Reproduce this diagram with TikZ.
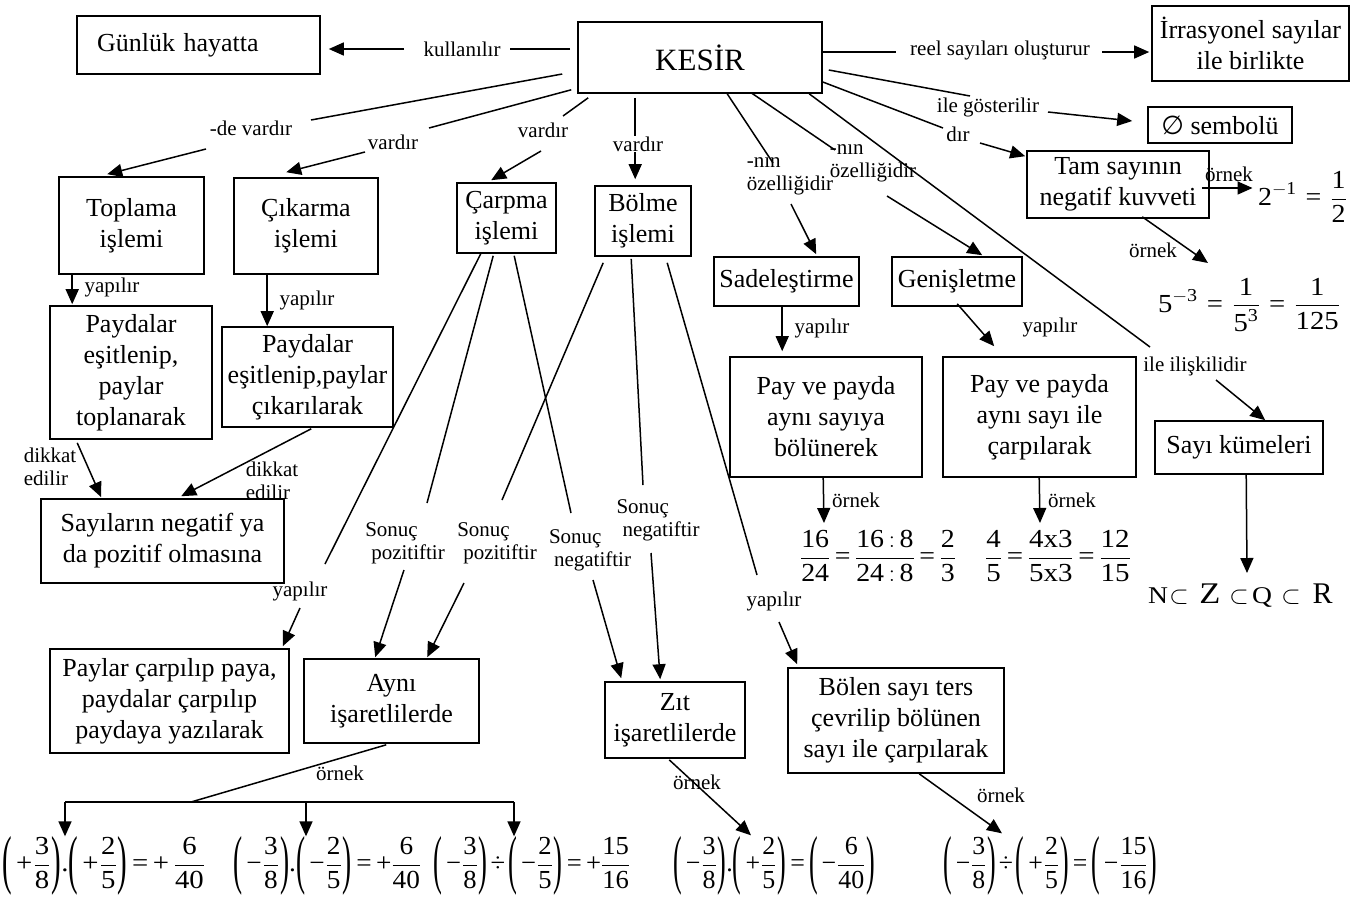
\documentclass[tikz,border=0pt]{standalone}
\usepackage{amsmath}
\usepackage{graphicx}
\usepackage{fontspec}
\setmainfont{Liberation Serif}
\newfontfamily\symfont{DejaVu Sans}
\usetikzlibrary{arrows.meta,calc}
\newcommand{\nm}[1]{\text{#1}}
\newcommand{\fr}[2]{\dfrac{\nm{#1}}{\nm{#2}}}
\newcommand{\pl}{\nm{+}}
\newcommand{\mi}{\nm{−}}
\newcommand{\lp}{\text{\raisebox{-10pt}{\scalebox{1}[2.5]{(}}}}
\newcommand{\rp}{\text{\raisebox{-10pt}{\scalebox{1}[2.5]{)}}}}
\newcommand{\pr}[2]{\lp\hspace{4pt}#1\hspace{1pt}#2\hspace{1pt}\rp}
\newcommand{\eqs}{\mathrel{\nm{=}}}
\newcommand{\dv}{\mathbin{\nm{÷}}}
\newcommand{\fitw}[2]{\resizebox{#1}{\height}{#2}}
\newcommand{\setletter}[3]{\makebox[#1]{\fontsize{#2}{#2}\selectfont\scalebox{1.15}[1]{#3}}}
\begin{document}
\thickmuskip=3mu
\medmuskip=2mu
\begin{tikzpicture}[x=1pt,y=-1pt,
  box/.style={draw, line width=1.6pt, align=center, inner sep=0pt,
              font=\fontsize{26}{31}\selectfont},
  lab/.style={inner sep=0pt, font=\fontsize{21}{23}\selectfont},
  math/.style={inner sep=0pt, font=\fontsize{26}{31}\selectfont},
  link/.style={line width=1.5pt},
  arr/.style={link, -{Triangle[length=15pt,width=13pt]}},
]
\fill[white] (0,0) rectangle (1364,906);
\useasboundingbox (0,0) rectangle (1364,906);

% ---------- concept boxes ----------
\node[box, minimum width=243pt, minimum height=58pt, text width=203pt, inner xsep=20pt, align=left] (gun) at (198.5,45) {Günlük hayatta};
\node[box, minimum width=244pt, minimum height=71pt, font=\fontsize{31}{36}\selectfont] (kesir) at (700,57.5) {KESİR};
\node[box, minimum width=197pt, minimum height=75pt] (irr) at (1250.5,43.5) {İrrasyonel sayılar\\ile birlikte};
\node[box, minimum width=144pt, minimum height=36pt] (bos) at (1220,125) {{\symfont ∅} sembolü};
\node[box, minimum width=182pt, minimum height=67pt] (tam) at (1118,184.5) {Tam sayının\\negatif kuvveti};
\node[box, minimum width=145pt, minimum height=97pt] (toplama) at (131.5,225.5) {Toplama\\işlemi};
\node[box, minimum width=144pt, minimum height=96pt] (cikarma) at (306,226) {Çıkarma\\işlemi};
\node[box, minimum width=99pt, minimum height=70pt] (carpma) at (506.5,218) {Çarpma\\işlemi};
\node[box, minimum width=96pt, minimum height=70pt] (bolme) at (643,221) {Bölme\\işlemi};
\node[box, minimum width=145pt, minimum height=49pt] (sade) at (786.5,281.5) {Sadeleştirme};
\node[box, minimum width=130pt, minimum height=49pt] (gen) at (957,281.5) {Genişletme};
\node[box, minimum width=162pt, minimum height=133pt] (pt) at (131,372.5) {Paydalar\\eşitlenip,\\paylar\\toplanarak};
\node[box, minimum width=171pt, minimum height=100pt] (pc) at (307.5,377) {Paydalar\\eşitlenip,paylar\\çıkarılarak};
\node[box, minimum width=243pt, minimum height=84pt] (say) at (162.5,541) {Sayıların negatif ya\\da pozitif olmasına};
\node[box, minimum width=192pt, minimum height=120pt] (ppb) at (826,417) {Pay ve payda\\aynı sayıya\\bölünerek};
\node[box, minimum width=193pt, minimum height=120pt] (ppc) at (1039.5,417) {Pay ve payda\\aynı sayı ile\\çarpılarak};
\node[box, minimum width=168pt, minimum height=53pt] (sayi) at (1239,447.5) {Sayı kümeleri};
\node[box, minimum width=239pt, minimum height=104pt] (paylar) at (169.5,701) {Paylar çarpılıp paya,\\paydalar çarpılıp\\paydaya yazılarak};
\node[box, minimum width=175pt, minimum height=84pt] (ayni) at (391.5,701) {Aynı\\işaretlilerde};
\node[box, minimum width=140pt, minimum height=76pt] (zit) at (675,720) {Zıt\\işaretlilerde};
\node[box, minimum width=216pt, minimum height=105pt] (bolen) at (896,720.5) {Bölen sayı ters\\çevrilip bölünen\\sayı ile çarpılarak};

% ---------- worked examples ----------
\node[math] (ex1) at (1302.5,197) {\fitw{89pt}{$\nm{2}^{-\nm{1}}\;\eqs\;\fr{1}{2}$}};
\node[math] (ex2) at (1249,305) {\fitw{182pt}{$\nm{5}^{-\nm{3}}\;\eqs\;\dfrac{\nm{1}}{\nm{5}^{\nm{3}}}\;\eqs\;\fr{1}{125}$}};
\node[math] (fr1) at (878,556) {\fitw{156pt}{$\fr{16}{24}\eqs\dfrac{\nm{16}:\nm{8}}{\nm{24}:\nm{8}}\eqs\fr{2}{3}$}};
\node[math] (fr2) at (1058,556) {\fitw{146pt}{$\fr{4}{5}\eqs\dfrac{\nm{4x3}}{\nm{5x3}}\eqs\fr{12}{15}$}};
\node[math] (sets) at (1240.5,596) {\setletter{20pt}{24}{N}\hspace{2pt}\makebox[18pt]{$\subset$}\hspace{10pt}\setletter{24pt}{30}{Z}\hspace{8pt}\makebox[18pt]{$\subset$}\hspace{4pt}\setletter{20pt}{24}{Q}\hspace{10pt}\makebox[18pt]{$\subset$}\hspace{12pt}\makebox[21pt]{\fontsize{30}{30}\selectfont R}};
\node[math, anchor=west] (eq1) at (2,866) {\fitw{203pt}{$\pr{\pl}{\fr{3}{8}}\nm{.}\pr{\pl}{\fr{2}{5}}\eqs\pl\,\fr{6}{40}$}};
\node[math, anchor=west] (eq2) at (233,866) {\fitw{188pt}{$\pr{\mi}{\fr{3}{8}}\nm{.}\pr{\mi}{\fr{2}{5}}\eqs\pl\fr{6}{40}$}};
\node[math, anchor=west] (eq3) at (433,866) {\fitw{197pt}{$\pr{\mi}{\fr{3}{8}}\dv\pr{\mi}{\fr{2}{5}}\eqs\pl\fr{15}{16}$}};
\node[math, anchor=west] (eq4) at (673,866) {\fitw{202pt}{$\pr{\mi}{\fr{3}{8}}\nm{.}\pr{\pl}{\fr{2}{5}}\eqs\pr{\mi}{\fr{6}{40}}$}};
\node[math, anchor=west] (eq5) at (943,866) {\fitw{214pt}{$\pr{\mi}{\fr{3}{8}}\dv\pr{\pl}{\fr{2}{5}}\eqs\pr{\mi}{\fr{15}{16}}$}};

% ---------- link labels ----------
\node[lab] (kul) at (462,49) {kullanılır};
\node[lab] (reel) at (1000,50) {reel sayıları oluşturur};
\node[lab] (gos) at (988,107) {ile gösterilir};
\node[lab] (dir) at (958,134) {dır};
\node[lab] (devar) at (251,128) {-de vardır};
\node[lab] (var1) at (393,142) {vardır};
\node[lab] (var2) at (543,130) {vardır};
\node[lab, align=left] (oz1) at (790,176) {-nın\\özelliğidir};
\node[lab, align=left] (oz2) at (873,163) {-nın\\özelliğidir};
\node[lab] (orn1) at (1229,174) {örnek};
\node[lab] (orn2) at (1153,250) {örnek};
\node[lab] (iliski) at (1195,366) {ile ilişkilidir};
\node[lab] (yap1) at (112,287) {yapılır};
\node[lab] (yap2) at (307,300) {yapılır};
\node[lab, align=left] (dik1) at (50,467) {dikkat\\edilir};
\node[lab, align=left] (dik2) at (272,481) {dikkat\\edilir};
\node[lab] (yap3) at (822,328) {yapılır};
\node[lab] (yap4) at (1050,327) {yapılır};
\node[lab] (orn3) at (856,500) {örnek};
\node[lab] (orn4) at (1072,500) {örnek};
\node[lab, align=left] (son1) at (405,543) {Sonuç\\\hspace*{6pt}pozitiftir};
\node[lab, align=left] (son2) at (497,543) {Sonuç\\\hspace*{6pt}pozitiftir};
\node[lab, align=left] (neg1) at (590,550) {Sonuç\\\hspace*{5pt}negatiftir};
\node[lab, align=left] (neg2) at (658,520) {Sonuç\\\hspace*{6pt}negatiftir};
\node[lab] (yap5) at (300,591) {yapılır};
\node[lab] (yap6) at (774,601) {yapılır};
\node[lab] (orn5) at (340,773) {örnek};
\node[lab] (orn6) at (697,782) {örnek};
\node[lab] (orn7) at (1001,795) {örnek};

% ---------- links leaving KESİR ----------
\draw[link] ($(kesir.west)+(-7,-8.5)$) -- ($(kul)+(48,0)$);
\draw[arr] ($(kul)+(-58,0)$) -- ($(gun.east)+(8,4)$);
\draw[link] ($(kesir.east)+(0,-5.5)$) -- ($(reel)+(-104,2)$);
\draw[arr] ($(reel)+(102,2)$) -- ($(irr.west)+(-2,8.5)$);
\draw[link] ($(kesir.east)+(6,12.5)$) -- ($(gos)+(-18,-11)$);
\draw[arr] ($(gos)+(60,5)$) -- ($(bos.west)+(-15,-4)$);
\draw[link] ($(kesir.east)+(0,24.5)$) -- ($(dir)+(-15,-6)$);
\draw[arr] ($(dir)+(22,9)$) -- ($(tam.north west)+(-1,6)$);
\draw[link] ($(kesir.west)+(-15,16.5)$) -- ($(devar)+(60,-8)$);
\draw[arr] ($(devar)+(-45,21)$) -- ($(toplama.north west)+(49,-2)$);
\draw[link] ($(kesir.south west)+(-6,-4)$) -- ($(var1)+(36,-14)$);
\draw[arr] ($(var1)+(-28,10)$) -- ($(cikarma.north west)+(53,-5)$);
\draw[link] ($(kesir.south west)+(11,4)$) -- ($(var2)+(20,-14)$);
\draw[arr] ($(var2)+(-2,21)$) -- ($(carpma.north west)+(35,-2)$);
\draw[arr] ($(kesir.south west)+(58,4)$) -- ($(bolme.north west)+(41,-6)$);
\node[lab, fill=white, inner sep=1pt] (var3) at (638,144) {vardır};
\draw[link] ($(kesir.south west)+(150,0)$) -- ($(oz1)+(-17,-13)$);
\draw[arr] ($(oz1)+(1,28)$) -- ($(sade.north west)+(103,-2)$);
\draw[link] ($(kesir.south west)+(174,-1)$) -- ($(oz2)+(-38,-13)$);
\draw[arr] ($(oz2)+(14,33)$) -- ($(gen.north west)+(91,-1)$);
\draw[link] ($(kesir.south west)+(232,0)$) -- ($(iliski)+(-45,-19)$);
\draw[arr] ($(iliski)+(21,14)$) -- ($(sayi.north west)+(111,0)$);

% ---------- addition and subtraction ----------
\draw[arr] ($(toplama.south west)+(14,0)$) -- ($(pt.north west)+(23,-1)$);
\draw[arr] ($(cikarma.south west)+(34,0)$) -- ($(pc.north west)+(46,0)$);
\draw[arr] ($(pt.south west)+(28,3)$) -- ($(say.north west)+(61,-1)$);
\draw[arr] ($(pc.south west)+(90,1)$) -- ($(say.north west)+(141,-2)$);

% ---------- multiplication and division ----------
\draw[link] ($(carpma.south west)+(25,-1)$) -- ($(yap5)+(25,-27)$);
\draw[arr] ($(yap5)+(0,17)$) -- ($(paylar.north east)+(-7,-2)$);
\draw[link] ($(carpma.south west)+(37,2)$) -- ($(son1)+(22,-40)$);
\draw[arr] ($(son1)+(-1,27)$) -- ($(ayni.north west)+(72,-1)$);
\draw[link] ($(carpma.south west)+(58,2)$) -- ($(neg1)+(-19,-37)$);
\draw[arr] ($(neg1)+(3,30)$) -- ($(zit.north west)+(17,-3)$);
\draw[link] ($(bolme.south west)+(9,6)$) -- ($(son2)+(5,-43)$);
\draw[arr] ($(son2)+(-33,40)$) -- ($(ayni.north west)+(124,-1)$);
\draw[link] ($(bolme.south west)+(37,2)$) -- ($(neg2)+(-15,-35)$);
\draw[arr] ($(neg2)+(-7,33)$) -- ($(zit.north west)+(56,-2)$);
\draw[link] ($(bolme.south west)+(73,6)$) -- ($(yap6)+(-17,-26)$);
\draw[arr] ($(yap6)+(5,21)$) -- ($(bolen.north west)+(10,-3)$);

% ---------- simplifying and expanding ----------
\draw[arr] ($(sade.south west)+(69,0)$) -- ($(ppb.north west)+(53,-5)$);
\draw[arr] ($(gen.south west)+(66,-3)$) -- ($(ppc.north west)+(52,-10)$);
\draw[arr] ($(ppb.south west)+(94,0)$) -- ($(fr1)+(-54,-33)$);
\draw[arr] ($(ppc.south west)+(97,0)$) -- ($(fr2)+(-18,-33)$);
\draw[arr] ($(sayi.south west)+(92,0)$) -- ($(sets)+(6.5,-23)$);
\draw[arr] ($(tam.east)+(-8,3.5)$) -- ($(ex1)+(-50,-9)$);
\draw[arr] ($(tam.south west)+(116,-2)$) -- ($(ex2)+(-41,-42)$);

% ---------- example branches at the bottom ----------
\coordinate (brm) at (191,802);
\coordinate (brl) at (65,802);
\coordinate (brc) at (306,802);
\coordinate (brr) at (514,802);
\draw[link] ($(ayni.south west)+(83,1)$) -- (brm);
\draw[link] (brl) -- (brr);
\draw[arr] (brl) -- (brl |- eq1.north);
\draw[arr] (brc) -- (brc |- eq2.north);
\draw[arr] (brr) -- (brr |- eq3.north);
\draw[arr] ($(zit.south west)+(65,1)$) -- ($(eq4.north west)+(78,-1)$);
\draw[arr] ($(bolen.south west)+(132,0)$) -- ($(eq5.north west)+(59,-3)$);
\end{tikzpicture}
\end{document}
